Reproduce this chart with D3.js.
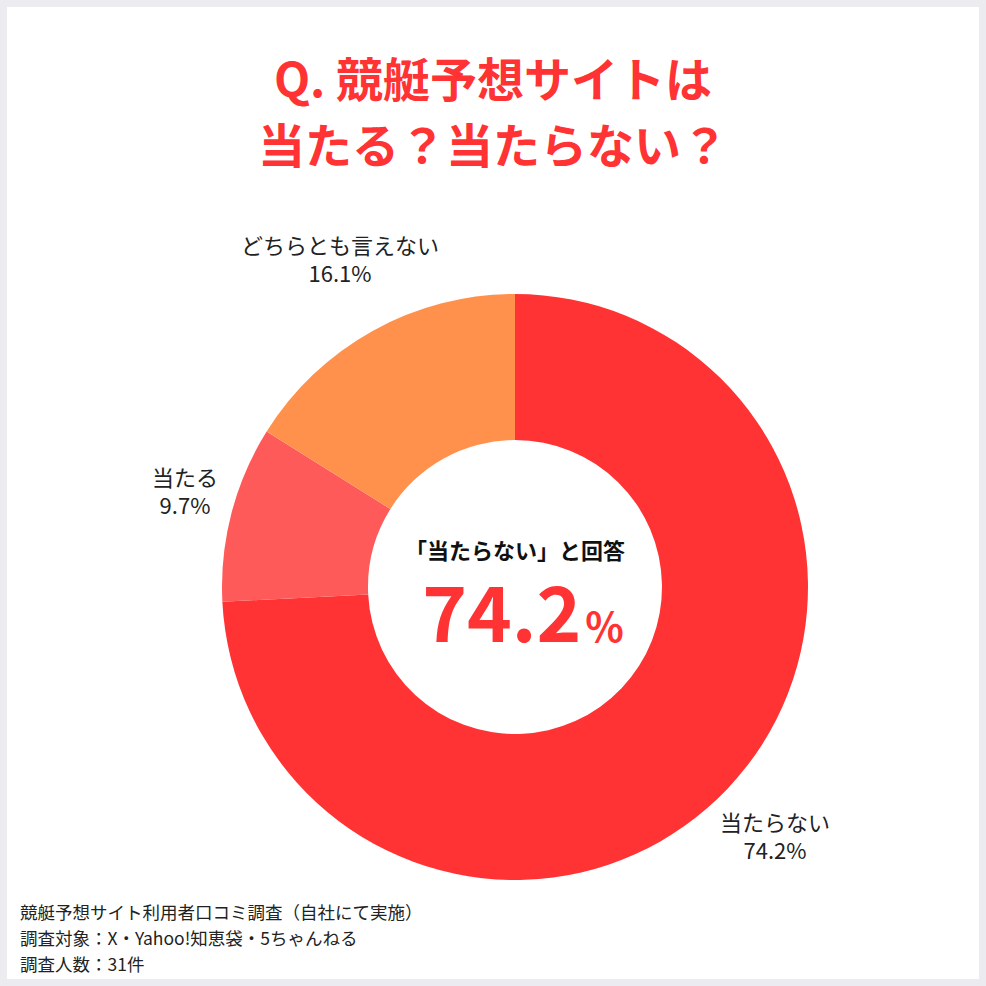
<!DOCTYPE html>
<html><head><meta charset="utf-8">
<script src="https://cdn.jsdelivr.net/npm/d3@7"></script>
<style>
body{margin:0;background:#ebebf0;font-family:"Noto Sans CJK JP","Noto Sans",sans-serif;}
</style></head>
<body>
<script>
const categories = ["当たらない", "当たる", "どちらとも言えない"];
const values = [74.2, 9.7, 16.1];
const colors = ["#ff3333", "#ff5a5a", "#ff914d"];
const titleLines = ["Q. 競艇予想サイトは", "当たる？当たらない？"];
const notes = ["競艇予想サイト利用者口コミ調査（自社にて実施）", "調査対象：X・Yahoo!知恵袋・5ちゃんねる", "調査人数：31件"];

const W = 986, H = 986;
const svg = d3.select("body").append("svg").attr("width", W).attr("height", H);
svg.append("rect").attr("x", 7).attr("y", 7).attr("width", 972).attr("height", 972).attr("fill", "#fff");

svg.selectAll(".title").data(titleLines).enter().append("text")
    .attr("x", 493).attr("y", (d, i) => 97 + i * 66)
    .attr("text-anchor", "middle").attr("font-size", 47).attr("font-weight", 700)
    .attr("fill", "#ff3333").text(d => d);

const cx = 515, cy = 587, rOut = 293, rIn = 147;
const pie = d3.pie().sort(null).value(d => d)(values);
const arc = d3.arc().innerRadius(rIn).outerRadius(rOut);
const g = svg.append("g").attr("transform", `translate(${cx},${cy})`);
g.selectAll("path").data(pie).enter().append("path")
    .attr("d", arc).attr("fill", (d, i) => colors[i]);

const labelPos = [[260, 244], [-330, -101], [-175, -333]];
const lab = g.selectAll(".lab").data(pie).enter().append("text")
    .attr("text-anchor", "middle").attr("font-size", 22).attr("fill", "#222")
    .attr("transform", (d, i) => `translate(${labelPos[i][0]},${labelPos[i][1]})`);
lab.append("tspan").attr("x", 0).attr("y", 0).text((d, i) => categories[i]);
lab.append("tspan").attr("x", 0).attr("y", 28).text((d, i) => values[i].toFixed(1) + "%");

g.append("text").attr("y", -28).attr("text-anchor", "middle").attr("font-size", 22)
    .attr("font-weight", 700).attr("fill", "#111").text("「" + categories[0] + "」と回答");
const big = g.append("text").attr("x", 8).attr("y", 55).attr("text-anchor", "middle").attr("fill", "#ff3333").attr("font-weight", 700);
big.append("tspan").attr("font-size", 76).text(values[0].toFixed(1));
big.append("tspan").attr("font-size", 40).attr("dx", 4).text("%");

svg.selectAll(".note").data(notes).enter().append("text")
    .attr("x", 20).attr("y", (d, i) => 919 + i * 26)
    .attr("font-size", 17.5).attr("fill", "#222").text(d => d);
</script>
</body></html>
